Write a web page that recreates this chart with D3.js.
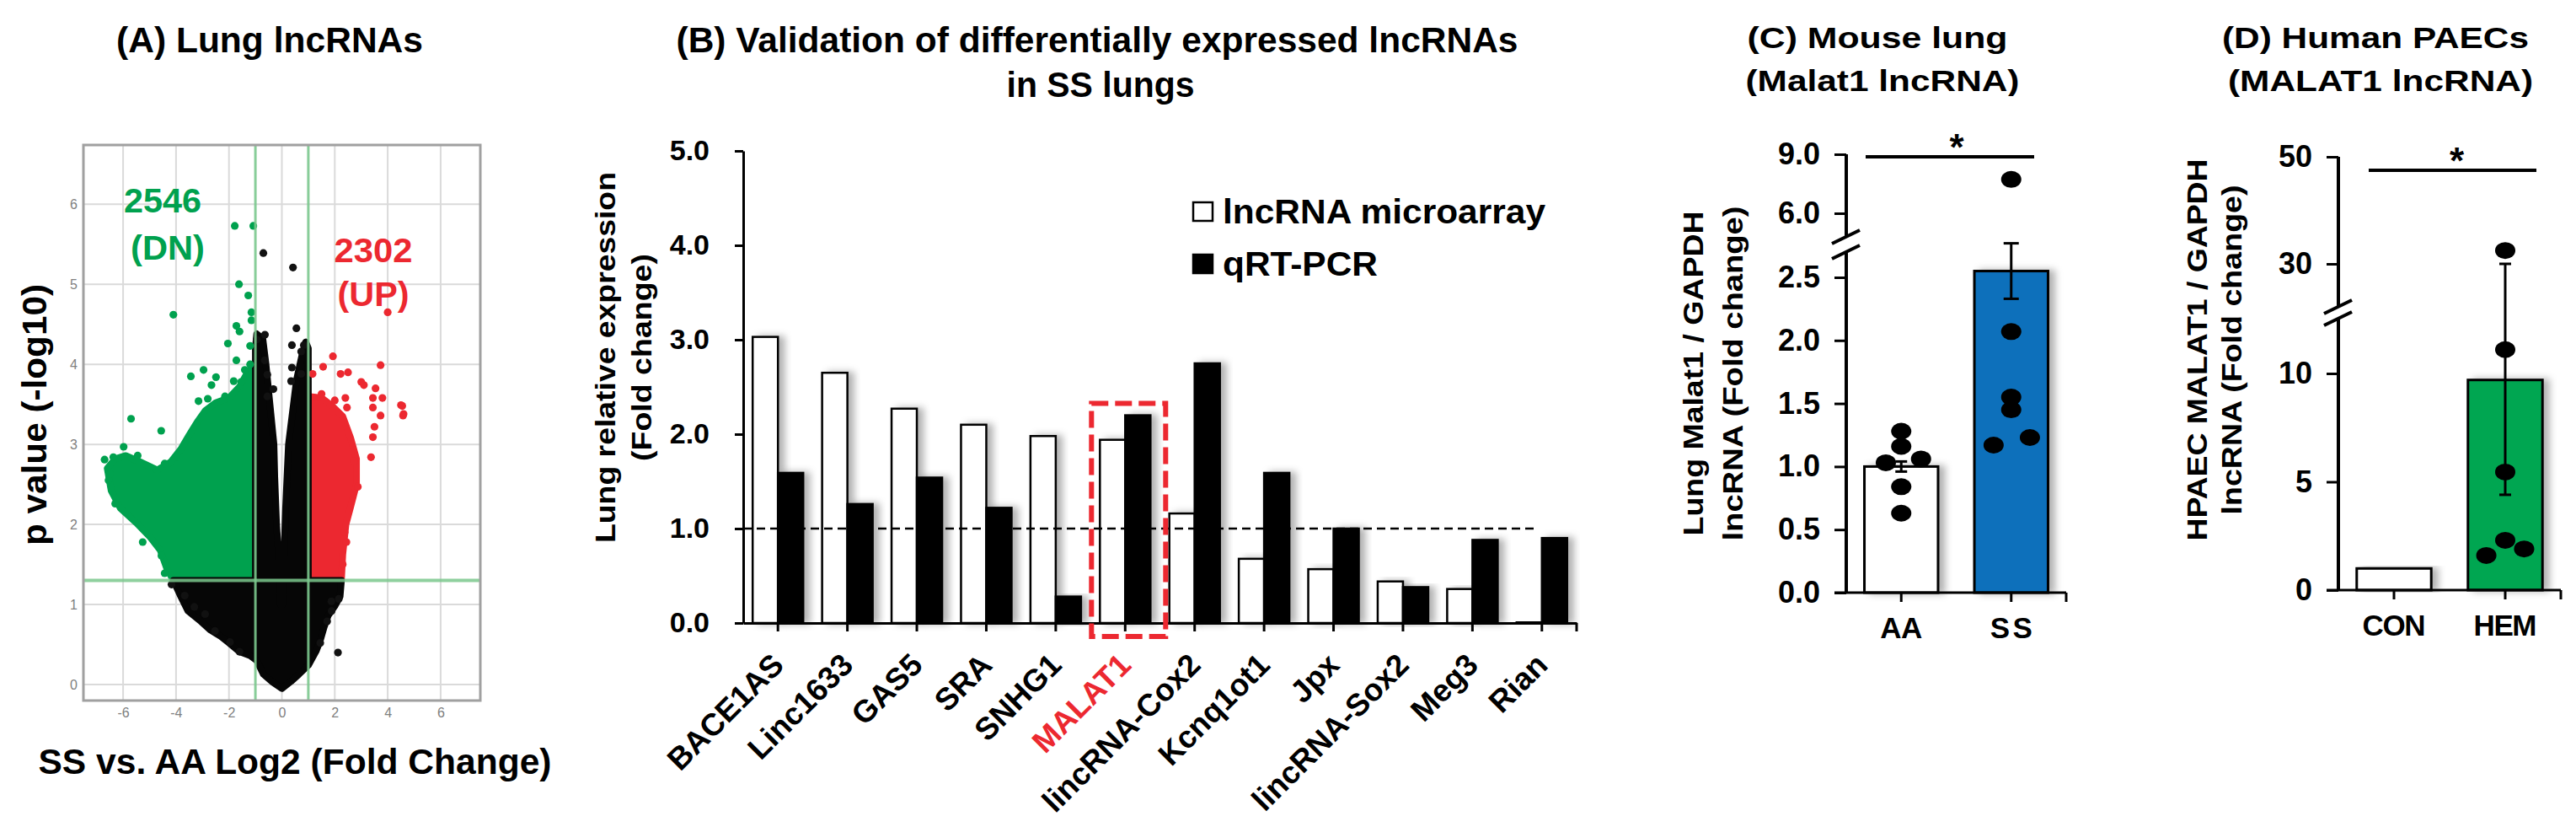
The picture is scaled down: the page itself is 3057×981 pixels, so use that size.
<!DOCTYPE html>
<html lang="en">
<head>
<meta charset="utf-8">
<title>Lung lncRNAs and MALAT1</title>
<script src="https://d3js.org/d3.v7.min.js"></script>
<style>
  body { margin: 0; background: #fff; }
  svg { display: block; background: #fff; }
  text { font-family: 'Liberation Sans', Arial, sans-serif; font-weight: bold; fill: #000; }
  .narrow { font-family: 'Liberation Sans Narrow', 'Liberation Sans', Arial, sans-serif; }
  .tickA text { font-weight: normal; fill: #808080; }
</style>
</head>
<body>
<svg id="fig" width="3057" height="981"></svg>
<script>
// ---------- data ----------
// (A) volcano: dense clouds as outlines [log2 FC, -log10 p], scattered points listed
const volcanoXTicks = [-6, -4, -2, 0, 2, 4, 6];
const volcanoYTicks = [0, 1, 2, 3, 4, 5, 6];
const fcCut = [-1, 1];
const pCut = 1.3;
const countDown = '2546', countUp = '2302';

const blackCloud = [[-4.1,1.3],[-3.85,1.12],[-3.55,0.92],[-3.1,0.8],[-2.7,0.68],[-2.3,0.6],[-2.0,0.52],[-1.6,0.41],
  [-1.2,0.36],[-0.95,0.3],[-0.7,0.13],[-0.35,0.03],[0,-0.05],[0.35,0.04],[0.65,0.13],[1.0,0.24],[1.3,0.42],
  [1.45,0.55],[1.6,0.72],[1.75,0.86],[2.0,0.98],[2.2,1.1],[2.25,1.3],[1.0,1.3],[1.0,4.2],[0.9,4.28],[0.75,4.1],
  [0.55,3.8],[0.4,3.4],[0.25,3.0],[0.14,2.2],[0.07,1.5],[0.02,1.0],[-0.05,1.0],[-0.1,1.5],[-0.2,2.0],[-0.27,2.6],
  [-0.3,3.0],[-0.45,3.5],[-0.6,4.0],[-0.72,4.32],[-0.95,4.38],[-1.0,4.2],[-1.0,1.3]];
const greenCloud = [[-1.0,1.3],[-4.1,1.3],[-4.35,1.45],[-4.6,1.68],[-5.0,1.85],[-5.5,2.02],[-6.1,2.2],[-6.45,2.42],
  [-6.6,2.7],[-6.3,2.82],[-5.9,2.86],[-5.35,2.78],[-4.7,2.68],[-4.2,2.78],[-3.8,2.95],[-3.5,3.12],[-3.2,3.28],
  [-2.9,3.42],[-2.5,3.52],[-2.0,3.58],[-1.6,3.72],[-1.3,3.9],[-1.0,4.0]];
const redCloud = [[1.0,1.3],[2.25,1.3],[2.3,1.62],[2.42,2.0],[2.6,2.22],[2.82,2.5],[2.82,2.82],[2.6,3.08],
  [2.3,3.35],[1.9,3.48],[1.5,3.58],[1.0,3.6]];
const blackDots = [[-0.7,5.39],[0.42,5.21],[0.55,4.45],[-0.64,4.37],[-0.95,4.31],[0.38,4.24],[0.73,4.16],[0.83,4.24],
  [0.38,3.96],[0.35,3.79],[0.73,3.88],[-0.65,4.05],[-0.55,3.87],[-0.32,3.69],[-0.55,3.6],[-4.17,1.25],[-3.67,1.11],
  [-3.31,0.97],[-2.9,0.88],[-2.53,0.67],[-1.96,0.53],[-1.6,0.41],[1.87,1.04],[2.15,1.07],[1.88,0.92],[1.71,0.79],
  [2.12,0.4],[1.45,0.52]];
const greenDots = [[-1.78,5.73],[-1.08,5.73],[-4.1,4.62],[-1.62,5.0],[-1.27,4.86],[-1.15,4.65],[-1.15,4.55],
  [-1.72,4.48],[-1.6,4.41],[-2.04,4.26],[-1.2,4.23],[-1.72,4.05],[-1.2,4.0],[-3.44,3.85],[-2.96,3.93],[-1.4,3.93],
  [-2.49,3.84],[-1.82,3.79],[-2.66,3.74],[-1.54,3.78],[-3.15,3.54],[-2.8,3.57],[-2.15,3.6],[-5.7,3.32],[-4.56,3.17],
  [-6.7,2.81],[-6.37,2.84],[-5.98,2.97],[-5.45,2.86],[-4.43,2.76],[-4.0,2.84],[-6.55,2.55],[-6.5,2.63],[-6.3,2.26],
  [-4.43,1.39],[-4.55,1.61],[-5.26,1.78]];
const redDots = [[1.93,4.1],[3.73,3.99],[1.56,3.97],[1.16,3.88],[2.22,3.88],[2.5,3.9],[3.0,3.78],[3.1,3.74],
  [3.54,3.7],[1.5,3.63],[2.0,3.55],[2.4,3.58],[3.44,3.58],[3.8,3.58],[4.5,3.49],[4.6,3.38],[2.46,3.46],[4.0,4.65],
  [3.44,3.46],[3.73,3.36],[4.55,3.48],[4.58,3.36],[3.44,3.09],[3.37,2.84],[3.5,3.22],[2.87,2.47],[2.73,2.79],
  [2.37,1.9],[2.44,1.78],[2.3,1.5]];

// (B) validation of lncRNAs
const catsB = ['BACE1AS','Linc1633','GAS5','SRA','SNHG1','MALAT1','lincRNA-Cox2','Kcnq1ot1','Jpx','lincRNA-Sox2','Meg3','Rian'];
const seriesB = ['lncRNA microarray', 'qRT-PCR'];
const microarrayB = [3.03, 2.65, 2.27, 2.10, 1.98, 1.94, 1.16, 0.68, 0.57, 0.44, 0.36, 0.015];
const qpcrB = [1.59, 1.26, 1.54, 1.22, 0.28, 2.20, 2.75, 1.59, 1.00, 0.38, 0.88, 0.90];
const ticksB = [0, 1, 2, 3, 4, 5];
const highlightB = 'MALAT1';

// (C) mouse lung Malat1
const groupsC = ['AA', 'SS'];
const meanC = [1.0, 2.55];
const semC = [0.04, 0.22];
const dotsAA = [1.28, 1.16, 1.03, 1.06, 0.84, 0.63];
const jitterAA = [0, 0, -0.14, 0.18, 0, 0];
const dotsSS = [7.72, 2.07, 1.55, 1.45, 1.17, 1.23];
const jitterSS = [0, 0, 0, 0, -0.16, 0.17];
const ticksCLow = [0, 0.5, 1.0, 1.5, 2.0, 2.5];
const ticksCHigh = [6.0, 9.0];

// (D) human PAECs MALAT1
const groupsD = ['CON', 'HEM'];
const meanD = [1.0, 9.7];
const errHEM = [4.4, 30];
const dotsHEM = [32.5, 11.1, 5.45, 2.3, 1.6, 1.9];
const jitterHEM = [0, 0, 0, 0, -0.17, 0.17];
const ticksDLow = [0, 5, 10];
const ticksDHigh = [30, 50];

// ---------- helpers ----------
const svg = d3.select('#fig');
const defs = svg.append('defs');
const shadow = defs.append('filter').attr('id', 'shadow')
  .attr('x', '-30%').attr('y', '-10%').attr('width', '180%').attr('height', '120%');
shadow.append('feDropShadow').attr('dx', 7).attr('dy', 0).attr('stdDeviation', 4)
  .attr('flood-color', '#000').attr('flood-opacity', 0.3);
// the (C) subtitle is cut off at its bottom edge in the original
defs.append('clipPath').attr('id', 'clipC').append('rect')
  .attr('x', 2000).attr('y', 0).attr('width', 500).attr('height', 114);

function label(g, txt, x, y, size, o = {}) {
  const t = g.append('text').attr('x', x).attr('y', y).attr('font-size', size)
    .attr('text-anchor', o.anchor || 'middle').text(txt);
  if (o.len) t.attr('textLength', o.len).attr('lengthAdjust', 'spacingAndGlyphs');
  if (o.fill) t.style('fill', o.fill);
  if (o.rotate) t.attr('transform', `rotate(${o.rotate},${x},${y})`);
  if (o.cls) t.attr('class', o.cls);
  if (o.clip) t.attr('clip-path', o.clip);
  return t;
}
const GREEN = '#00a14e', RED = '#ec2830', BLUE = '#0a6fbb';

// ---------- (A) volcano ----------
const gA = svg.append('g');
const ax = d3.scaleLinear().domain([-7.5, 7.5]).range([99, 570]);
const ay = d3.scaleLinear().domain([-0.2, 6.74]).range([831, 172]);

gA.selectAll('.vg').data(volcanoXTicks).join('line')
  .attr('x1', d => ax(d)).attr('x2', d => ax(d)).attr('y1', ay.range()[0]).attr('y2', ay.range()[1])
  .attr('stroke', '#dadada').attr('stroke-width', 2);
gA.selectAll('.hg').data(volcanoYTicks).join('line')
  .attr('x1', ax.range()[0]).attr('x2', ax.range()[1]).attr('y1', d => ay(d)).attr('y2', d => ay(d))
  .attr('stroke', '#dadada').attr('stroke-width', 2);

const cloud = d3.line().x(d => ax(d[0])).y(d => ay(d[1])).curve(d3.curveLinearClosed);
[[greenCloud, GREEN], [redCloud, RED], [blackCloud, '#060606']].forEach(([pts, c]) => {
  gA.append('path').datum(pts).attr('d', cloud).attr('fill', c)
    .attr('stroke', c).attr('stroke-width', 8).attr('stroke-linejoin', 'round');
});
[[greenDots, GREEN], [redDots, RED], [blackDots, '#111']].forEach(([pts, c]) => {
  gA.append('g').selectAll('circle').data(pts).join('circle')
    .attr('cx', d => ax(d[0])).attr('cy', d => ay(d[1])).attr('r', 4.6).attr('fill', c);
});

gA.selectAll('.fcl').data(fcCut).join('line')
  .attr('x1', d => ax(d)).attr('x2', d => ax(d)).attr('y1', ay.range()[0]).attr('y2', ay.range()[1])
  .attr('stroke', '#7cc88e').attr('stroke-width', 3).attr('opacity', 0.9);
gA.append('line').attr('x1', ax.range()[0]).attr('x2', ax.range()[1]).attr('y1', ay(pCut)).attr('y2', ay(pCut))
  .attr('stroke', '#7cc88e').attr('stroke-width', 4).attr('opacity', 0.85);
gA.append('rect').attr('x', ax.range()[0]).attr('y', ay.range()[1])
  .attr('width', ax.range()[1] - ax.range()[0]).attr('height', ay.range()[0] - ay.range()[1])
  .attr('fill', 'none').attr('stroke', '#a0a0a0').attr('stroke-width', 3);

gA.append('g').attr('class', 'tickA').attr('transform', `translate(0,${ay.range()[0]})`)
  .call(d3.axisBottom(ax).tickValues(volcanoXTicks).tickFormat(d => String(d)).tickSize(0).tickPadding(9))
  .call(g => g.select('.domain').remove()).attr('font-size', 16).attr('font-family', null);
gA.append('g').attr('class', 'tickA').attr('transform', `translate(${ax.range()[0]},0)`)
  .call(d3.axisLeft(ay).tickValues(volcanoYTicks).tickFormat(d => String(d)).tickSize(0).tickPadding(7))
  .call(g => g.select('.domain').remove()).attr('font-size', 16).attr('font-family', null);

label(gA, '(A) Lung lncRNAs', 320, 62, 42, { len: 364, cls: 'narrow' });
label(gA, countDown, 193, 252, 40, { len: 92, fill: GREEN, cls: 'narrow' });
label(gA, '(DN)', 199, 308, 40, { len: 88, fill: GREEN, cls: 'narrow' });
label(gA, countUp, 443, 311, 40, { len: 93, fill: RED, cls: 'narrow' });
label(gA, '(UP)', 443, 363, 40, { len: 85, fill: RED, cls: 'narrow' });
label(gA, 'p value (-log10)', 55, 492, 40, { len: 310, rotate: -90 });
label(gA, 'SS vs. AA Log2 (Fold Change)', 350, 918, 42, { len: 609 });

// ---------- (B) grouped bars ----------
const gB = svg.append('g');
const xB = d3.scaleBand().domain(catsB).range([882, 1871]);
const xBs = d3.scaleBand().domain(seriesB).range([-30, 30]);
const yB = d3.scaleLinear().domain([0, 5]).range([739, 179]);
const rowsB = catsB.map((c, i) => ({ cat: c, vals: [microarrayB[i], qpcrB[i]] }));
const cx = c => xB(c) + xB.bandwidth() / 2;

gB.selectAll('g.grp').data(rowsB).join('g').attr('class', 'grp')
  .selectAll('rect').data(d => d.vals.map((v, k) => ({ cat: d.cat, s: seriesB[k], v })))
  .join('rect')
  .attr('x', d => cx(d.cat) + xBs(d.s)).attr('width', xBs.bandwidth())
  .attr('y', d => yB(d.v)).attr('height', d => yB(0) - yB(d.v))
  .attr('fill', d => d.s === seriesB[0] ? '#fff' : '#050505')
  .attr('stroke', '#000').attr('stroke-width', 2.5).attr('filter', 'url(#shadow)');

gB.append('line').attr('x1', 882).attr('x2', cx('Rian') - 4).attr('y1', yB(1)).attr('y2', yB(1))
  .attr('stroke', '#000').attr('stroke-width', 2.5).attr('stroke-dasharray', '10,6');

gB.append('g').attr('transform', 'translate(882,0)')
  .call(d3.axisLeft(yB).tickValues(ticksB).tickFormat(d3.format('.1f')).tickSize(10).tickPadding(30).tickSizeOuter(0))
  .attr('font-size', 34).attr('font-family', null)
  .call(g => g.selectAll('line, path').attr('stroke-width', 3))
  .call(g => g.selectAll('text').attr('class', 'narrow'));
gB.append('g').attr('transform', `translate(0,${yB(0)})`)
  .call(d3.axisBottom(xB).tickValues(catsB).tickFormat('').tickSize(10).tickSizeOuter(0))
  .call(g => g.selectAll('line, path').attr('stroke-width', 3))
  .call(g => g.selectAll('.tick').attr('transform', d => `translate(${cx(d)},0)`));
gB.append('line').attr('x1', xB.range()[1]).attr('x2', xB.range()[1]).attr('y1', yB(0)).attr('y2', yB(0) + 10)
  .attr('stroke', '#000').attr('stroke-width', 3);

gB.selectAll('.catlab').data(catsB).join('text')
  .attr('transform', d => `translate(${cx(d) + 9},${yB(0) + 52}) rotate(-45)`)
  .attr('text-anchor', 'end').attr('font-size', 37)
  .style('fill', d => d === highlightB ? RED : '#000').text(d => d);

const hi = catsB.indexOf(highlightB);
const hiTop = yB(Math.max(microarrayB[hi], qpcrB[hi])) - 14;
gB.append('rect').attr('x', cx(highlightB) - 40).attr('y', hiTop)
  .attr('width', 88).attr('height', yB(0) + 16 - hiTop)
  .attr('fill', 'none').attr('stroke', RED).attr('stroke-width', 6).attr('stroke-dasharray', '20,8');

// legend
const legB = gB.append('g').attr('transform', 'translate(1416,240)');
legB.selectAll('rect').data(seriesB).join('rect')
  .attr('x', 0).attr('y', (d, i) => i * 62).attr('width', 23).attr('height', 22)
  .attr('fill', (d, i) => i ? '#000' : '#fff').attr('stroke', '#000').attr('stroke-width', 2.5);
legB.selectAll('text').data(seriesB).join('text')
  .attr('x', 35).attr('y', (d, i) => 25 + i * 62).attr('font-size', 40)
  .attr('textLength', (d, i) => i ? 184 : 383).attr('lengthAdjust', 'spacingAndGlyphs').text(d => d);

label(gB, '(B) Validation of differentially expressed lncRNAs', 1302, 62, 42, { len: 999, cls: 'narrow' });
label(gB, 'in SS lungs', 1306, 115, 42, { len: 223, cls: 'narrow' });
label(gB, 'Lung relative expression', 730, 424, 33, { len: 440, rotate: -90 });
label(gB, '(Fold change)', 773, 424, 33, { len: 246, rotate: -90 });

// ---------- (C) and (D) broken-axis dot bars ----------
function brokenBars(o) {
  const g = svg.append('g');
  const y = v => (v < o.split ? o.yLow(v) : o.yHigh(v));
  const [x0, x1] = o.x.range();
  const mid = d => o.x(d) + o.x.bandwidth() / 2;
  const bw = o.x.bandwidth() * 0.67;

  g.selectAll('rect.bar').data(o.groups).join('rect').attr('class', 'bar')
    .attr('x', d => mid(d) - bw / 2).attr('width', bw)
    .attr('y', (d, i) => y(o.means[i])).attr('height', (d, i) => y(0) - y(o.means[i]))
    .attr('fill', (d, i) => o.fills[i]).attr('stroke', '#000').attr('stroke-width', 3)
    .attr('filter', 'url(#shadow)');

  o.errors.forEach(e => {
    const xm = mid(e.g);
    g.append('line').attr('x1', xm).attr('x2', xm).attr('y1', y(e.lo)).attr('y2', y(e.hi))
      .attr('stroke', '#000').attr('stroke-width', 3);
    [e.lo, e.hi].forEach(v => g.append('line').attr('x1', xm - e.cap).attr('x2', xm + e.cap)
      .attr('y1', y(v)).attr('y2', y(v)).attr('stroke', '#000').attr('stroke-width', 3));
  });

  o.dots.forEach(ds => {
    g.append('g').selectAll('ellipse').data(ds.v).join('ellipse')
      .attr('cx', (d, i) => mid(ds.g) + ds.jit[i] * o.x.step()).attr('cy', d => y(d))
      .attr('rx', 12).attr('ry', 10).attr('fill', '#000');
  });

  // axes
  const yAx = g.append('g').attr('transform', `translate(${x0},0)`);
  yAx.append('g').call(d3.axisLeft(o.yLow).tickValues(o.ticksLow).tickFormat(o.fmt).tickSize(14).tickPadding(17).tickSizeOuter(0));
  yAx.append('g').call(d3.axisLeft(o.yHigh).tickValues(o.ticksHigh).tickFormat(o.fmt).tickSize(14).tickPadding(17).tickSizeOuter(0));
  yAx.selectAll('.domain').remove();
  yAx.selectAll('g').attr('font-size', 36).attr('font-family', null);
  yAx.selectAll('line').attr('stroke-width', 3);
  yAx.append('line').attr('y1', y(0)).attr('y2', o.gap[1]).attr('stroke', '#000').attr('stroke-width', 4);
  yAx.append('line').attr('y1', o.gap[0]).attr('y2', o.yHigh(o.yHigh.domain()[1])).attr('stroke', '#000').attr('stroke-width', 4);
  o.gap.forEach(b => yAx.append('line').attr('x1', -17).attr('x2', 16).attr('y1', b + 8).attr('y2', b - 8)
    .attr('stroke', '#000').attr('stroke-width', 4));

  g.append('line').attr('x1', x0 - 14).attr('x2', x1).attr('y1', y(0)).attr('y2', y(0))
    .attr('stroke', '#000').attr('stroke-width', 3);
  g.selectAll('line.xt').data(o.groups.map(mid).concat([x1])).join('line').attr('class', 'xt')
    .attr('x1', d => d).attr('x2', d => d).attr('y1', y(0)).attr('y2', y(0) + 11)
    .attr('stroke', '#000').attr('stroke-width', 3);
  g.selectAll('text.xl').data(o.groups).join('text').attr('class', 'xl')
    .attr('x', d => mid(d)).attr('y', y(0) + 54).attr('text-anchor', 'middle').attr('font-size', 35)
    .attr('textLength', d => d.length * 25).attr('lengthAdjust', 'spacing').text(d => d);

  // significance bar
  g.append('line').attr('x1', o.sig[0]).attr('x2', o.sig[1]).attr('y1', o.sig[2]).attr('y2', o.sig[2])
    .attr('stroke', '#000').attr('stroke-width', 4);
  label(g, '*', (o.sig[0] + o.sig[1]) / 2 + o.sig[3], o.sig[2] + 4, 44);

  label(g, o.title[0], o.tx[0], 57, 35, { len: o.tx[1] });
  label(g, o.title[1], o.tx[2], 108, 35, { len: o.tx[3], clip: o.clip });
  label(g, o.ylab[0], o.yl[0], o.yl[4], 34, { len: o.yl[1], rotate: -90, cls: 'narrow' });
  label(g, o.ylab[1], o.yl[2], o.yl[4], 34, { len: o.yl[3], rotate: -90, cls: 'narrow' });
  return g;
}

brokenBars({
  groups: groupsC, means: meanC, fills: ['#fff', BLUE],
  x: d3.scaleBand().domain(groupsC).range([2191, 2452]),
  yLow: d3.scaleLinear().domain([0, 2.5]).range([703, 329]),
  yHigh: d3.scaleLinear().domain([6, 9]).range([253, 183]),
  split: 4, gap: [281, 299], ticksLow: ticksCLow, ticksHigh: ticksCHigh, fmt: d3.format('.1f'),
  errors: groupsC.map((g, i) => ({ g, lo: meanC[i] - semC[i], hi: meanC[i] + semC[i], cap: i ? 9 : 7 })),
  dots: [{ g: 'AA', v: dotsAA, jit: jitterAA }, { g: 'SS', v: dotsSS, jit: jitterSS }],
  sig: [2214, 2414, 186, 8],
  title: ['(C) Mouse lung', '(Malat1 lncRNA)'], tx: [2228, 309, 2234, 325], clip: 'url(#clipC)',
  ylab: ['Lung Malat1 / GAPDH', 'lncRNA  (Fold change)'], yl: [2021, 385, 2068, 397, 443]
});

brokenBars({
  groups: groupsD, means: meanD, fills: ['#fff', '#00a651'],
  x: d3.scaleBand().domain(groupsD).range([2775, 3039]),
  yLow: d3.scaleLinear().domain([0, 10]).range([700, 443]),
  yHigh: d3.scaleLinear().domain([30, 50]).range([313, 186]),
  split: 20, gap: [364, 378], ticksLow: ticksDLow, ticksHigh: ticksDHigh, fmt: d3.format('d'),
  errors: [{ g: 'HEM', lo: errHEM[0], hi: errHEM[1], cap: 7 }],
  dots: [{ g: 'HEM', v: dotsHEM, jit: jitterHEM }],
  sig: [2811, 3010, 202, 5],
  title: ['(D) Human PAECs', '(MALAT1 lncRNA)'], tx: [2819, 364, 2825, 362],
  ylab: ['HPAEC MALAT1 / GAPDH', 'lncRNA (Fold change)'], yl: [2619, 453, 2660, 391, 415]
});
</script>
</body>
</html>
